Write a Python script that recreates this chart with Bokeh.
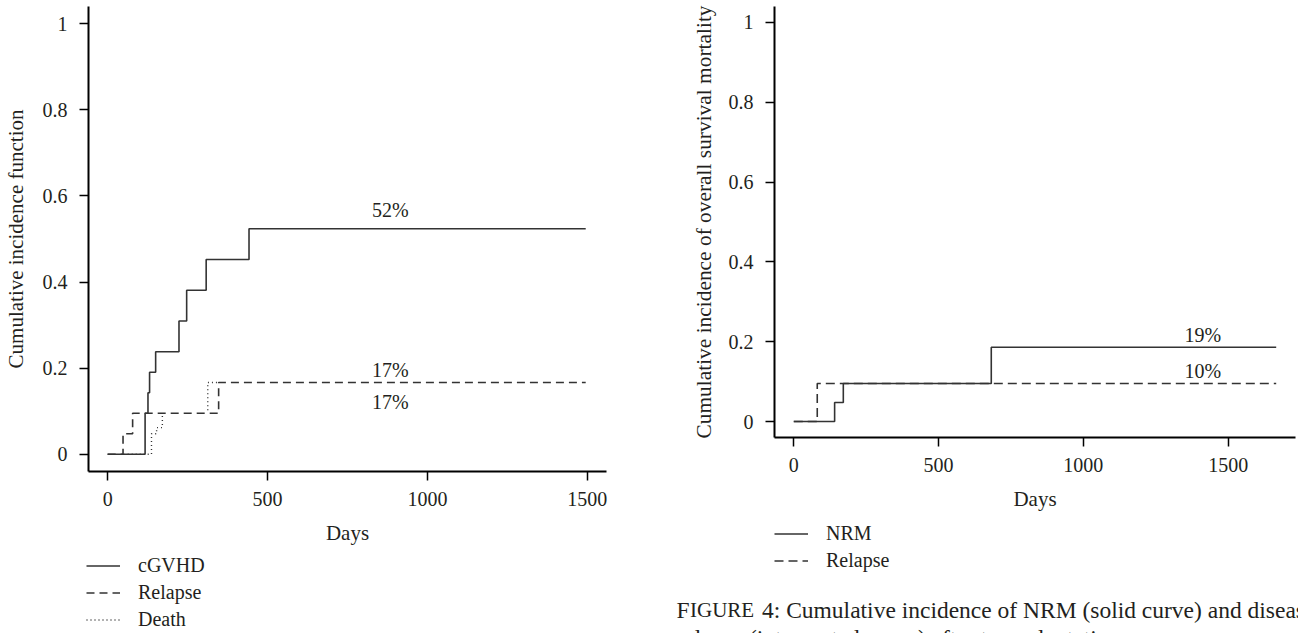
from bokeh.plotting import figure
from bokeh.layouts import row, column
from bokeh.models import Range1d, FixedTicker, Legend, LegendItem, Label, ColumnDataSource
from bokeh.embed import file_html
from bokeh.resources import INLINE
from bokeh.core.properties import value

# ---------------- data ----------------
# Left panel: cumulative incidence of cGVHD, relapse and death
cgvhd_days = [0, 117, 126, 131, 150, 223, 247, 308, 442, 1495]
cgvhd_cif = [0, 0.0952, 0.1429, 0.1905, 0.2381, 0.3095, 0.3810, 0.4524, 0.5238, 0.5238]
relapse_l_days = [0, 48, 78, 347, 1495]
relapse_l_cif = [0, 0.0476, 0.0952, 0.1667, 0.1667]
death_days = [0, 137, 153, 171, 313, 1495]
death_cif = [0, 0.0476, 0.0619, 0.0952, 0.1667, 0.1667]

# Right panel: NRM and relapse
nrm_days = [0, 141, 171, 682, 1666]
nrm_cif = [0, 0.0476, 0.0952, 0.1860, 0.1860]
relapse_r_days = [0, 81, 1666]
relapse_r_cif = [0, 0.0952, 0.0952]

x_ticks = [0, 500, 1000, 1500]
y_ticks = [0, 0.2, 0.4, 0.6, 0.8, 1]
y_tick_labels = ["0", "0.2", "0.4", "0.6", "0.8", "1"]

left_names = ["cGVHD", "Relapse", "Death"]
right_names = ["NRM", "Relapse"]
left_ylabel = "Cumulative incidence function"
right_ylabel = "Cumulative incidence of overall survival mortality"
xlabel = "Days"
caption_line1 = "4: Cumulative incidence of NRM (solid curve) and disease"
caption_line2 = "relapse (interrupted curve) after transplantation."

# ---------------- styles ----------------
FONT = "Liberation Serif"
TXT = "#231f20"
CURVE = "#333333"
SOLID = dict(line_color=CURVE, line_width=1.6)
DASH_L = dict(line_color=CURVE, line_width=1.6, line_dash="8 5")
DOT = dict(line_color=CURVE, line_width=1.4, line_dash="1 3")
DASH_R = dict(line_color=CURVE, line_width=1.6, line_dash="9 5")
UNDER = dict(line_color="white", line_width=3)


def pct(v):
    return f"{round(v * 100)}%"


def no_align(p):
    try:
        p.frame_align = False
    except Exception:
        pass


def make_fig(width, height, xr, yr, bl, br, bt, bb, y_standoff, ylab_size):
    p = figure(width=width, height=height, x_range=xr, y_range=yr,
               output_backend="svg", toolbar_location=None,
               min_border_left=bl, min_border_right=br,
               min_border_top=bt, min_border_bottom=bb)
    no_align(p)
    p.grid.visible = False
    p.outline_line_color = None
    p.background_fill_color = "white"
    p.border_fill_color = "white"
    p.xaxis.ticker = FixedTicker(ticks=x_ticks)
    p.yaxis.ticker = FixedTicker(ticks=y_ticks)
    p.yaxis.major_label_overrides = {t: l for t, l in zip(y_ticks, y_tick_labels)}
    for ax in (p.xaxis[0], p.yaxis[0]):
        ax.axis_line_color = "black"
        ax.axis_line_width = 2
        ax.major_tick_line_color = "black"
        ax.major_tick_line_width = 1.5
        ax.major_tick_out = 9
        ax.major_tick_in = 0
        ax.minor_tick_line_color = None
        ax.major_label_text_font = FONT
        ax.major_label_text_font_size = "20px"
        ax.major_label_text_color = TXT
        ax.axis_label_text_font = FONT
        ax.axis_label_text_font_size = "21px"
        ax.axis_label_text_font_style = "normal"
        ax.axis_label_text_color = TXT
    p.yaxis.axis_label_text_font_size = ylab_size
    p.xaxis.major_label_standoff = 11
    p.yaxis.major_label_standoff = 12
    p.xaxis.axis_label = xlabel
    p.xaxis.axis_label_standoff = 12
    p.yaxis.axis_label_standoff = y_standoff
    return p


def make_key(width, height):
    k = figure(width=width, height=height, x_range=Range1d(0, width), y_range=Range1d(0, height),
               output_backend="svg", toolbar_location=None,
               x_axis_location=None, y_axis_location=None,
               min_border_left=0, min_border_right=0, min_border_top=0, min_border_bottom=0)
    no_align(k)
    k.grid.visible = False
    k.outline_line_color = None
    k.background_fill_color = "white"
    k.border_fill_color = "white"
    return k


def key_line(k, style):
    # sample renderer kept outside the visible range; it only feeds the legend glyph
    return k.line([-20, -10], [-20, -20], **style)


def make_legend(items, x, y):
    lg = Legend(items=items, location=(x, y))
    lg.padding = 0
    lg.margin = 0
    lg.spacing = 0
    lg.glyph_width = 34
    lg.glyph_height = 27
    lg.label_height = 27
    lg.label_standoff = 18
    lg.label_text_font = FONT
    lg.label_text_font_size = "20px"
    lg.label_text_color = TXT
    lg.label_text_baseline = "middle"
    lg.border_line_color = None
    lg.background_fill_alpha = 0
    return lg


# ---------------- left panel ----------------
pl = make_fig(640, 550, Range1d(-60, 1560), Range1d(-0.04, 1.04), 86, 34, 6, 79, 12, "21px")
pl.yaxis.axis_label = left_ylabel

# death (dotted) first, then relapse (dashed, over a white underlay so shared
# segments read as dashed only), then cGVHD (solid) on top
pl.step(death_days, death_cif, mode="after", **DOT)
pl.step(relapse_l_days, relapse_l_cif, mode="after", **UNDER)
pl.step(relapse_l_days, relapse_l_cif, mode="after", **DASH_L)
pl.step(cgvhd_days, cgvhd_cif, mode="after", **SOLID)

left_final = [cgvhd_cif[-1], relapse_l_cif[-1], death_cif[-1]]
left_txt = ColumnDataSource(dict(
    x=[884, 884, 884],
    y=[left_final[0] + 0.0426, left_final[1] + 0.0288, left_final[2] - 0.0456],
    t=[pct(v) for v in left_final]))
pl.text(x="x", y="y", text="t", source=left_txt, text_font=value(FONT),
        text_font_size="20px", text_color=TXT, text_align="center",
        text_baseline="middle")

kl = make_key(640, 83)
k1 = key_line(kl, SOLID)
k2 = key_line(kl, DASH_L)
k3 = key_line(kl, DOT)
kl.add_layout(make_legend([LegendItem(label=left_names[0], renderers=[k1]),
                           LegendItem(label=left_names[1], renderers=[k2]),
                           LegendItem(label=left_names[2], renderers=[k3])], 86, 0), "center")

# ---------------- right panel ----------------
xmax_r = nrm_days[-1]
pr = make_fig(658, 515, Range1d(-0.04 * xmax_r, 1.04 * xmax_r), Range1d(-0.04, 1.04),
              134, 3, 6, 78, 10, "21.4px")
pr.yaxis.axis_label = right_ylabel

pr.step(nrm_days, nrm_cif, mode="after", **SOLID)
pr.step(relapse_r_days, relapse_r_cif, mode="after", **DASH_R)

right_final = [nrm_cif[-1], relapse_r_cif[-1]]
right_txt = ColumnDataSource(dict(
    x=[1413, 1413],
    y=[right_final[0] + 0.030, right_final[1] + 0.0325],
    t=[pct(v) for v in right_final]))
pr.text(x="x", y="y", text="t", source=right_txt, text_font=value(FONT),
        text_font_size="20px", text_color=TXT, text_align="center",
        text_baseline="middle")

kr = make_key(658, 118)
k4 = key_line(kr, SOLID)
k5 = key_line(kr, DASH_R)
kr.add_layout(make_legend([LegendItem(label=right_names[0], renderers=[k4]),
                           LegendItem(label=right_names[1], renderers=[k5])], 134, 59), "center")

# caption (small-caps "Figure")
for txt, x, y, size in [("F", 36, 24, "23.5px"),
                        ("IGURE", 49.5, 24, "21px"),
                        (caption_line1, 121.5, 24, "23.5px"),
                        (caption_line2, 36, -4, "23.5px")]:
    kr.add_layout(Label(x=x, y=y, x_units="screen", y_units="screen", text=txt,
                        text_font=FONT, text_font_size=size, text_color=TXT,
                        text_align="left", text_baseline="middle"))

layout = row(column(pl, kl, spacing=0), column(pr, kr, spacing=0), spacing=0)
open("out.html", "w").write(file_html(layout, INLINE))
